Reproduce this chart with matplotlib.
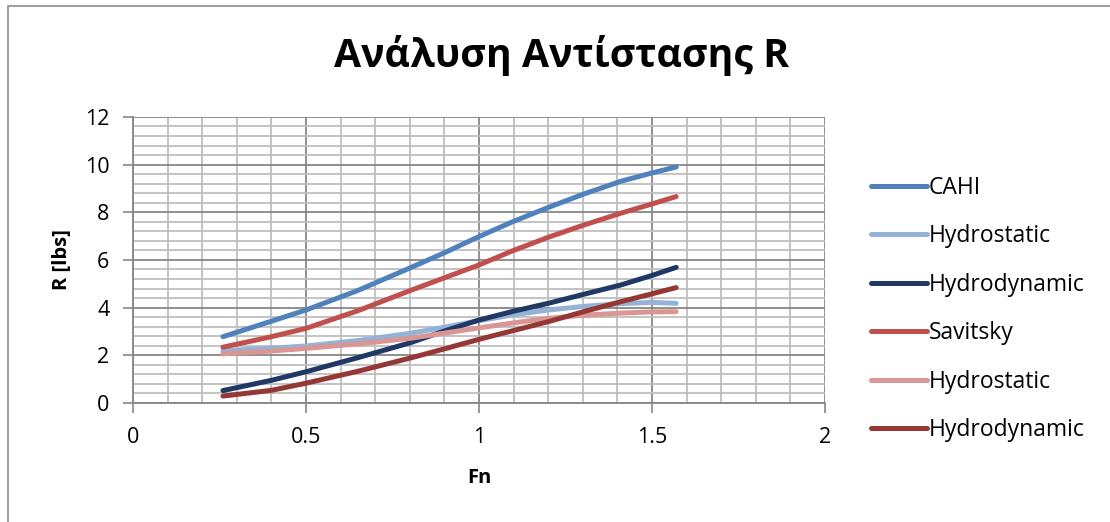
import matplotlib.pyplot as plt
from matplotlib.patches import Rectangle
from matplotlib.ticker import MultipleLocator

fn = [0.26, 0.4, 0.5, 0.65, 0.8, 0.9, 1.0, 1.1, 1.2, 1.3, 1.41, 1.5, 1.57]

cahi = [2.78, 3.43, 3.9, 4.72, 5.66, 6.3, 6.98, 7.62, 8.2, 8.75, 9.3, 9.65, 9.9]
cahi_hs = [2.19, 2.3, 2.39, 2.62, 2.92, 3.18, 3.45, 3.7, 3.9, 4.05, 4.17, 4.22, 4.18]
cahi_hd = [0.52, 0.95, 1.31, 1.9, 2.52, 3.02, 3.48, 3.85, 4.18, 4.55, 4.95, 5.35, 5.69]
sav = [2.34, 2.78, 3.13, 3.87, 4.71, 5.25, 5.79, 6.4, 6.95, 7.45, 7.96, 8.35, 8.66]
sav_hs = [2.06, 2.18, 2.29, 2.48, 2.71, 2.93, 3.15, 3.36, 3.55, 3.68, 3.77, 3.82, 3.83]
sav_hd = [0.29, 0.53, 0.83, 1.33, 1.88, 2.27, 2.67, 3.04, 3.41, 3.82, 4.25, 4.58, 4.84]

labels = ['CAHI', 'Hydrostatic', 'Hydrodynamic', 'Savitsky', 'Hydrostatic', 'Hydrodynamic']
colors = ['#4F81BD', '#95B3D7', '#1F3864', '#C0504D', '#D99694', '#953735']
series = [cahi, cahi_hs, cahi_hd, sav, sav_hs, sav_hd]

plt.rcParams['font.family'] = ['Open Sans', 'DejaVu Sans']

fig = plt.figure(figsize=(11.1, 5.22), dpi=100)
ax = fig.add_axes([0.1198, 0.228, 0.6234, 0.548])

for ys, c, lab in zip(series, colors, labels):
    ax.plot(fn, ys, color=c, lw=3.6, label=lab, solid_capstyle='round',
            solid_joinstyle='round', zorder=3)

ax.set_xlim(0, 2)
ax.set_ylim(0, 12)
ax.xaxis.set_minor_locator(MultipleLocator(0.1))
ax.yaxis.set_major_locator(MultipleLocator(2))
ax.yaxis.set_minor_locator(MultipleLocator(0.4))
ax.set_xticks([0, 0.5, 1, 1.5, 2])
ax.set_xticklabels(['0', '0.5', '1', '1.5', '2'])
ax.grid(which='major', color='#878787', lw=1.3, zorder=0)
ax.grid(which='minor', color='#BEBEBE', lw=1.3, zorder=0)
ax.tick_params(which='major', length=7, width=1.2, color='#878787', labelsize=15.5)
ax.tick_params(axis='x', pad=10)
ax.tick_params(axis='y', pad=10)
ax.tick_params(which='minor', length=0)
for s in ['top', 'right']:
    ax.spines[s].set_visible(False)
for s in ['left', 'bottom']:
    ax.spines[s].set_color('#878787')
    ax.spines[s].set_linewidth(1.3)

ax.set_xlabel('Fn', fontsize=14.5, fontweight='bold')
ax.set_ylabel('R [lbs]', fontsize=14.5, fontweight='bold')
ax.xaxis.set_label_coords(0.5, -0.228)
ax.yaxis.set_label_coords(-0.088, 0.5)
fig.text(0.506, 0.8716, 'Ανάλυση Αντίστασης R', ha='center', va='baseline',
         fontsize=28.3, fontweight='bold')

leg = ax.legend(loc='center left', bbox_to_anchor=(1.066, 0.328), frameon=False,
                fontsize=16.5, handlelength=2.45, handletextpad=0.08, labelspacing=1.07,
                borderpad=0, borderaxespad=0)

fig.patches.append(Rectangle((0.0068, -0.02), 1.1, 1.0085, transform=fig.transFigure,
                             fill=False, edgecolor='#8C8C8C', lw=1.2))

fig.savefig('out.png', dpi=100)
